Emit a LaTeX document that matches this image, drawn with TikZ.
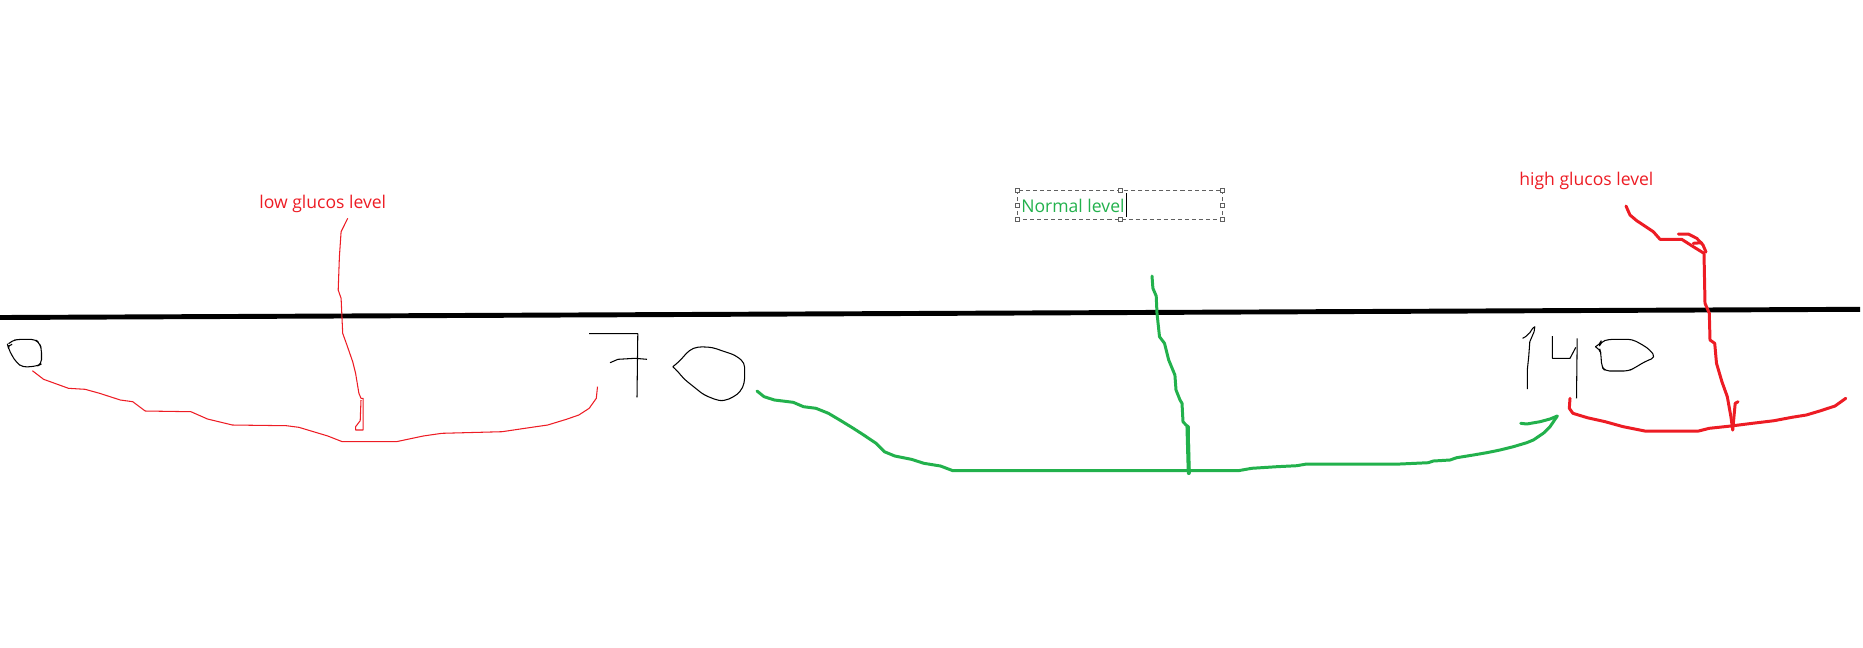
\documentclass[tikz,border=0pt]{standalone}
\usepackage{fontspec}
\setmainfont{Open Sans}
\definecolor{paintred}{RGB}{237,28,36}
\definecolor{paintgreen}{RGB}{34,177,76}
\definecolor{selgray}{RGB}{96,96,96}

\begin{document}
\begin{tikzpicture}[
            x=0.02cm, y=-0.02cm,
            font=\fontsize{10}{12}\selectfont,
            % one unit = one pixel of the sketch, y grows downwards
            axis/.style ={line width=2.8pt},
            digit/.style ={line width=0.6pt, line join=round},
            zero/.style ={digit, rounded corners=2.5pt},
            thinred/.style ={draw=paintred, line width=0.6pt, line join=round},
            thickred/.style ={draw=paintred, line width=1.7pt, line join=round, line cap=round},
            thickgreen/.style={draw=paintgreen, line width=1.7pt, line join=round, line cap=round},
            lbl/.style ={anchor=base west, inner sep=0pt},
            selbox/.style ={draw=selgray, line width=0.57pt, dash pattern=on 2.3pt off 1.7pt},
            handle/.style ={draw=selgray, fill=white, line width=0.57pt}
        ]
        \useasboundingbox (0,0) rectangle (1863,647);

        %% ===== axis =====
        \draw[axis] (0,317.5) -- (1860,309.3);

        %% ===== hand-written marks: 0, 70, 140 =====
        \draw[zero] (9,343.3) -- (12,340.5) -- (18.7,339.3) -- (35.3,339.3) -- (39.4,343.3) -- (41.5,348.3)
            -- (41.5,364) -- (37.3,366) -- (22.8,367.3) -- (16.6,362.7) -- (11.6,355) -- (8.5,348.3)
            -- (7.5,344.5) -- (11,344.5);

        \draw[digit] (589,333.7) -- (637.8,333.7) -- (637,397.3);
        \draw[digit] (610,362.7) -- (618,359.3) -- (635,358.3) -- (647,359.3);
        \draw[zero] (672.8,366.7) -- (679,361.7) -- (689.4,350) -- (697.7,346.7) -- (712.2,347.3) -- (724.7,351.7)
            -- (735,355) -- (744.6,362.7) -- (744.6,382.7) -- (740.5,391.7) -- (733,397.3) -- (724.7,400.7)
            -- (718.5,400.7) -- (704,395) -- (693.6,386.7) -- (683.2,378.3) -- (678.2,371.7) -- (672.8,366.7);

        \draw[digit] (1522.6,338.3) -- (1525.5,336.7) -- (1529.8,332.7) -- (1532.7,328.3) -- (1534.8,326.7)
            -- (1534.1,331.7) -- (1529.8,341.7) -- (1528.7,356.7) -- (1527.3,370) -- (1527.3,389);
        \draw[digit] (1552.4,336) -- (1552.4,358.3) -- (1570,358.3) -- (1575.8,347.3);
        \draw[digit] (1577.2,338.3) -- (1576.5,398.3);
        \draw[zero] (1595.2,346.7) -- (1599.8,345) -- (1600.9,341.7) -- (1608.8,339.3) -- (1632.1,339.3)
            -- (1642.9,345) -- (1650.1,350) -- (1655.5,357.3) -- (1644.7,361.7) -- (1633.9,368.3) -- (1628.5,371)
            -- (1605.2,371) -- (1601.6,366.7) -- (1600.9,353.3) -- (1599.8,349) -- (1595.2,346.7);

        %% ===== low range (0 to 70) =====
        \node[lbl, text=paintred] (lowlbl) at (259,208) {low glucos level};
        \coordinate (lowtop) at (347.7,218.3);
        \coordinate (lowtip) at (361,400);
        \draw[thinred] (32.4,370.7) -- (43.6,379.3) -- (68.5,388.3) -- (85.1,389.3) -- (99.6,393.3) -- (120.3,400)
            -- (132.8,401.7) -- (145.2,411) -- (190.9,411.7) -- (207.5,419) -- (232.4,425) -- (286.3,425.7)
            -- (298.8,427.3) -- (327.8,436) -- (342.3,441.7) -- (396.3,441.7) -- (423.2,436) -- (441.9,433.3)
            -- (502.1,431.7) -- (524.9,428.3) -- (547.7,425) -- (566.4,419.3) -- (578.8,415) -- (589.2,408.3)
            -- (596.3,398.3) -- (597.5,386.7);
        \draw[thinred] (lowtop) -- (341.1,231.7) -- (339.4,256.7) -- (338.2,290) -- (341.1,298.3) -- (342.7,333.3)
            -- (346.9,345) -- (352.7,361.7) -- (355.6,373.3) -- (358.9,393.3) -- (361,398.3) -- (363.1,398.3)
            -- (363.1,430) -- (355.6,430) -- (355.6,426.7) -- (360.2,420.7) -- (lowtip);

        %% ===== normal range (70 to 140) =====
        \node[lbl, text=paintgreen] (normlbl) at (1021,212) {Normal level};
        \draw[selbox] (1017.3,190) rectangle (1222.7,219.3);
        \foreach \hx/\hy in {1017.3/190, 1120.7/190, 1222.7/190, 1017.3/205, 1222.7/205,
                             1017.3/219.3, 1120.7/219.3, 1222.7/219.3}
            \draw[handle] (\hx-2,\hy-2) rectangle (\hx+2,\hy+2);
        \draw[line width=0.6pt] (1126.5,193.3) -- (1126.5,216.7);

        \coordinate (normtop) at (1152,276);
        \coordinate (normtip) at (1188.8,473);
        \draw[thickgreen] (757,391) -- (764.1,396.7) -- (774.5,400) -- (793.2,402.3) -- (803.5,406.7) -- (816,408.3)
            -- (828.4,413.3) -- (840.9,420.7) -- (853.3,428.3) -- (863.7,435) -- (876.1,443.3) -- (884.4,451.7)
            -- (894.8,456) -- (911.4,459.3) -- (923.9,463.3) -- (940.5,466) -- (952.9,470.7) -- (1238.3,470.7)
            -- (1251.7,468.3) -- (1276.7,466.7) -- (1296.7,465.7) -- (1306.7,464) -- (1400,464) -- (1428.3,462.7)
            -- (1433.3,461) -- (1450,460) -- (1456.7,457.7) -- (1473.3,455) -- (1486.7,452.7) -- (1500,450)
            -- (1513.3,446.7) -- (1526.7,442.7) -- (1533.3,440) -- (1543.3,433.3) -- (1550,426.7) -- (1557.3,416);
        \draw[thickgreen] (1520.7,423.3) -- (1526.7,424) -- (1540,421.7) -- (1550,419) -- (1557.3,416);
        \draw[thickgreen] (normtop) -- (1152.9,288.3) -- (1156.2,296) -- (1157,313.3) -- (1159.5,336.7)
            -- (1164.5,343.3) -- (1168.7,360) -- (1174.9,375) -- (1176,390) -- (1180,400) -- (1182,403.3)
            -- (1183,421.7) -- (1186,425) -- (1188.3,426.7) -- (normtip);
        \draw[thickgreen, line width=2.3pt] (1187.5,427) -- (normtip);

        %% ===== high range (above 140) =====
        \node[lbl, text=paintred] (highlbl) at (1519,185) {high glucos level};
        \coordinate (hightop) at (1626,206);
        \coordinate (hightip) at (1732.7,430);
        \draw[thickred] (1570,398.3) -- (1569.3,408.3) -- (1572.9,413.3) -- (1587.3,417.7) -- (1605.2,421.7)
            -- (1623.2,426.7) -- (1644.7,431) -- (1698.6,431) -- (1709.3,428.3) -- (1730.9,426) -- (1752.4,423.3)
            -- (1774,420.7) -- (1791.9,417.3) -- (1806.3,415) -- (1820.7,410.7) -- (1835,406) -- (1845.8,398.3);
        \draw[thickred] (hightop) -- (1628.5,211.7) -- (1630,215) -- (1636.7,220.7) -- (1643.3,225) -- (1653.3,231.7)
            -- (1660,239.3) -- (1681.7,239.3) -- (1693.3,246.7) -- (1704,253.3) -- (1705,303.3) -- (1709.3,313.3)
            -- (1710,340) -- (1714.7,343.3) -- (1716.5,363.3) -- (1721.9,381.7) -- (1723.7,386.7) -- (1727.3,396.7)
            -- (1730.9,416.7) -- (hightip);
        \draw[thickred] (1678.3,234) -- (1688.3,234) -- (1696.7,238.3) -- (1700,241.7) -- (1703,245) -- (1706,252);
        \draw[thickred] (1693.3,243.3) -- (1701.7,242.7);
        \draw[thickred] (hightip) -- (1735.2,403.3) -- (1738.1,401.7);

    \end{tikzpicture}
\end{document}
